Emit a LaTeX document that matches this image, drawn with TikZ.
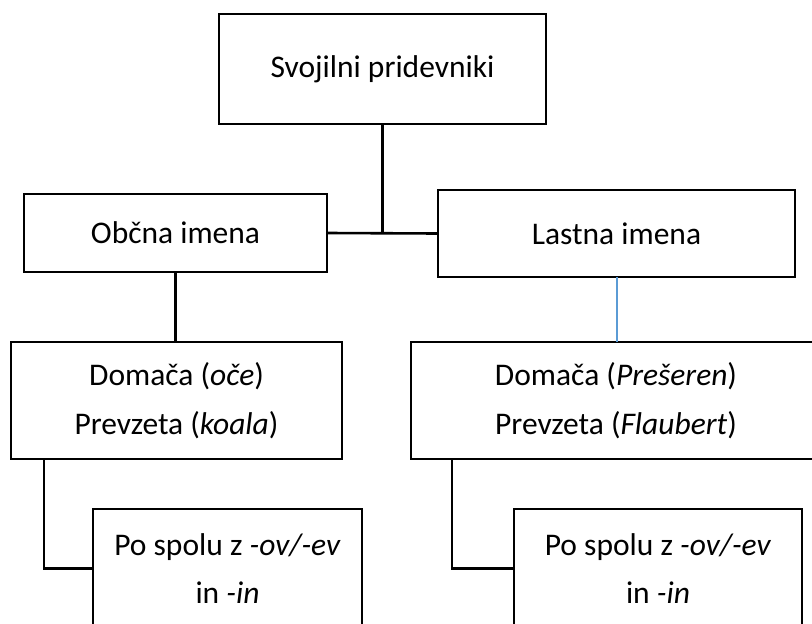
\documentclass[tikz,border=0pt]{standalone}
\usepackage{fontspec}
\setmainfont{Carlito}
\definecolor{linkblue}{RGB}{91,155,213}
\tikzset{
  box/.style={inner sep=0pt, align=center, outer sep=0pt,
    font=\fontsize{31.5}{48.5}\selectfont},
  frame/.style={draw=black, line width=2.6pt},
  conn/.style={draw=black, line width=2.6pt},
  blueconn/.style={draw=linkblue, line width=2pt}
}
\begin{document}
\begin{tikzpicture}[x=1pt,y=-1pt]
\useasboundingbox (0,0) rectangle (812,624);
\clip (0,0) rectangle (812,624);
\node[box, minimum width=327pt, minimum height=110pt] (top) at (382.5,69) {Svojilni pridevniki};
\node[box, minimum width=303pt, minimum height=78pt] (obcna) at (175.5,233) {Občna imena};
\node[box, minimum width=357pt, minimum height=87pt] (lastna) at (616.5,233.5) {Lastna imena};
\node[box, minimum width=331pt, minimum height=117pt] (domL) at (176.5,400.5) {Domača (\textit{oče})\\Prevzeta (\textit{koala})};
\node[box, minimum width=410pt, minimum height=117pt] (domR) at (616,400.5) {Domača (\textit{Prešeren})\\Prevzeta (\textit{Flaubert})};
\node[box, minimum width=269pt, minimum height=119pt] (poL) at (227.5,568.5) {Po spolu z \textit{-ov/-ev}\\in \textit{-in}};
\node[box, minimum width=288pt, minimum height=119pt] (poR) at (658,568.5) {Po spolu z \textit{-ov/-ev}\\in \textit{-in}};
\foreach \n in {top,obcna,lastna,domL,domR,poL,poR}
  \draw[frame] (\n.north west) rectangle (\n.south east);
\draw[conn] (obcna.east) -- (lastna.west);
\draw[conn] (top.south) -- (top.south |- obcna.east);
\draw[conn] (obcna.south) -- (obcna.south |- domL.north);
\draw[blueconn] (lastna.south) -- (lastna.south |- domR.north);
\coordinate (dl) at ([xshift=33pt]domL.south west);
\coordinate (dr) at ([xshift=41pt]domR.south west);
\draw[conn] (dl) |- (poL.west);
\draw[conn] (dr) |- (poR.west);
\end{tikzpicture}
\end{document}
